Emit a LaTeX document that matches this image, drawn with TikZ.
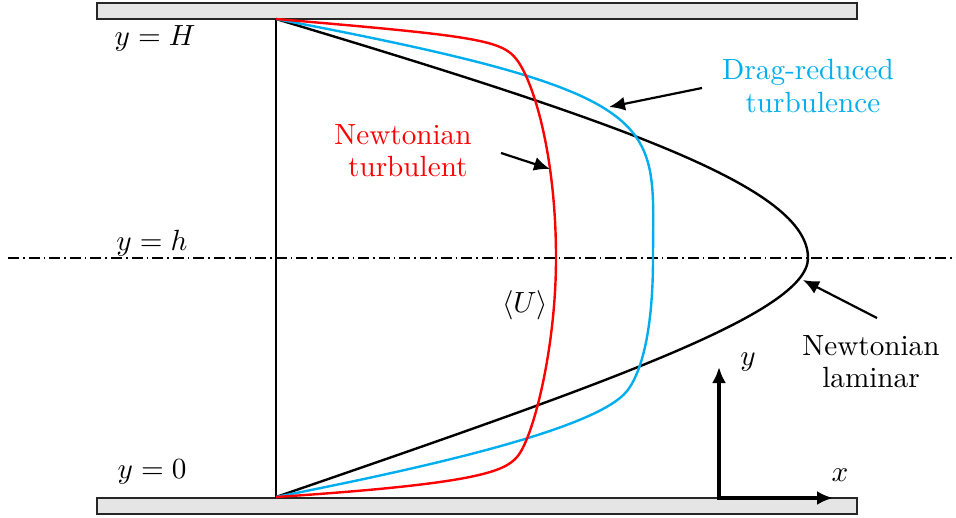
\documentclass[tikz,border=0pt]{standalone}
\usetikzlibrary{arrows.meta}
\definecolor{dragblue}{RGB}{0,174,239}
\definecolor{plategray}{RGB}{229,229,229}
\begin{document}
\begin{tikzpicture}[x=0.5pt,y=-0.5pt,
  plate/.style={draw=black!85,line width=0.8pt,fill=plategray},
  prof/.style={line width=1.2pt,line join=round},
  lbl/.style={font=\fontsize{10}{11}\selectfont,align=center,inner sep=0pt,scale=1.46},
  ptr/.style={line width=1.1pt,-{Latex[length=8pt,width=7pt]}},
  axis/.style={line width=1.6pt,-{Latex[length=8pt,width=7pt]}},
  centre/.style={line width=0.6pt,dash pattern=on 5.5pt off 2pt on 0.8pt off 2pt}]
\useasboundingbox (0,0) rectangle (956,518);
% plates
\draw[plate] (97,3) rectangle (857,19);
\draw[plate] (97,498) rectangle (857,514);
% centre line
\draw[centre] (8,258) -- (956,258);
% wall-normal line
\coordinate (top) at (276,19);
\coordinate (bot) at (276,498);
\draw[line width=1pt] (top) -- (bot);
% laminar
\draw[prof] (276,19) .. controls (626,124) and (808,188) .. (808,258)
  .. controls (808,313) and (606,383.5) .. (276,497);
% drag reduced
\draw[prof,dragblue] (276,19) .. controls (676,95) and (653,120) .. (653,258)
  .. controls (653,338) and (639.2,375.6) .. (627,391)
  .. controls (596.5,429.5) and (423,468) .. (276,497);
% newtonian turbulent
\draw[prof,red] (276,19) .. controls (476,36) and (502.25,40) .. (517,60)
  .. controls (534.7,84) and (556,158) .. (556,258)
  .. controls (556,348) and (533.25,438.5) .. (517,457)
  .. controls (504,471.8) and (476,483.8) .. (276,497);
% labels
\node[lbl] (lH) at (155,38) {$y = H$};
\node[lbl] (lh) at (152,243) {$y = h$};
\node[lbl] (l0) at (152,472) {$y = 0$};
\node[lbl,red] (nt) at (403,151) {Newtonian\\ \,\,turbulent};
\node[lbl,dragblue] (dr) at (808,86) {Drag-reduced\\ \,\,turbulence};
\node[lbl] (nl) at (871,362) {Newtonian\\ laminar};
\node[lbl] (U) at (525,305) {$\langle U\rangle$};
% pointers
\coordinate (ntA) at (501,153);
\coordinate (ntB) at (550,169);
\coordinate (drA) at (702,88);
\coordinate (drB) at (609,107);
\coordinate (nlA) at (877,318);
\coordinate (nlB) at (803,280);
\draw[ptr] (ntA) -- (ntB);
\draw[ptr] (drA) -- (drB);
\draw[ptr] (nlA) -- (nlB);
% axes
\coordinate (O) at (719,498);
\coordinate (Y) at (719,367);
\coordinate (X) at (833,498);
\draw[axis] (O) -- (Y);
\draw[axis] ([xshift=-0.8pt]O) -- (X);
\node[lbl] (ly) at (748,362) {$y$};
\node[lbl] (lx) at (840,475) {$x$};
\end{tikzpicture}
\end{document}
